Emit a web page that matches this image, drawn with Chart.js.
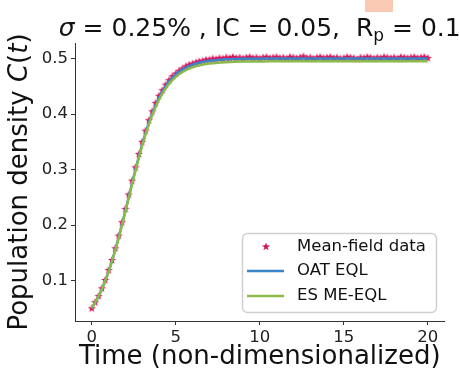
<!DOCTYPE html>
<html>
<head>
<meta charset="utf-8">
<script src="https://cdn.jsdelivr.net/npm/chart.js@4.4.1/dist/chart.umd.min.js"></script>
<style>
  body { margin: 0; background: #fff; }
  #wrap { position: relative; width: 459px; height: 370px; }
  #patch { position: absolute; left: 365px; top: 0; width: 28px; height: 12px; background: #f9c9b4; }
</style>
</head>
<body>
<div id="wrap">
  <canvas id="chart" width="459" height="370"></canvas>
  <div id="patch"></div>
</div>
<script>
// Mean-field data (stars), sampled every 0.2 time units
const dataTime = [
  0, 0.2, 0.4, 0.6, 0.8, 1, 1.2, 1.4, 1.6, 1.8,
  2, 2.2, 2.4, 2.6, 2.8, 3, 3.2, 3.4, 3.6, 3.8,
  4, 4.2, 4.4, 4.6, 4.8, 5, 5.2, 5.4, 5.6, 5.8,
  6, 6.2, 6.4, 6.6, 6.8, 7, 7.2, 7.4, 7.6, 7.8,
  8, 8.2, 8.4, 8.6, 8.8, 9, 9.2, 9.4, 9.6, 9.8,
  10, 10.2, 10.4, 10.6, 10.8, 11, 11.2, 11.4, 11.6, 11.8,
  12, 12.2, 12.4, 12.6, 12.8, 13, 13.2, 13.4, 13.6, 13.8,
  14, 14.2, 14.4, 14.6, 14.8, 15, 15.2, 15.4, 15.6, 15.8,
  16, 16.2, 16.4, 16.6, 16.8, 17, 17.2, 17.4, 17.6, 17.8,
  18, 18.2, 18.4, 18.6, 18.8, 19, 19.2, 19.4, 19.6, 19.8, 20
];
const meanField = [
  0.050, 0.061, 0.072, 0.086, 0.101, 0.119, 0.137, 0.158, 0.181, 0.205,
  0.229, 0.255, 0.280, 0.304, 0.328, 0.350, 0.370, 0.389, 0.405, 0.420,
  0.433, 0.443, 0.453, 0.461, 0.468, 0.473, 0.478, 0.482, 0.486, 0.489,
  0.491, 0.493, 0.495, 0.496, 0.498, 0.498, 0.500, 0.499, 0.501, 0.500,
  0.502, 0.501, 0.503, 0.501, 0.502, 0.500, 0.502, 0.503, 0.501, 0.502,
  0.500, 0.502, 0.503, 0.501, 0.502, 0.503, 0.501, 0.502, 0.500, 0.503,
  0.502, 0.501, 0.502, 0.504, 0.501, 0.502, 0.500, 0.502, 0.503, 0.501,
  0.502, 0.503, 0.501, 0.502, 0.500, 0.501, 0.503, 0.502, 0.501, 0.499,
  0.502, 0.501, 0.503, 0.502, 0.500, 0.502, 0.501, 0.503, 0.502, 0.501,
  0.502, 0.500, 0.503, 0.502, 0.501, 0.502, 0.503, 0.501, 0.502, 0.503, 0.501
];

// Learned model curves
const modelTime = [
  0, 0.5, 1, 1.5, 2, 2.5, 3, 3.5, 4, 4.5,
  5, 5.5, 6, 6.5, 7, 7.5, 8, 8.5, 9, 9.5,
  10, 10.5, 11, 11.5, 12, 12.5, 13, 13.5, 14, 14.5,
  15, 15.5, 16, 16.5, 17, 17.5, 18, 18.5, 19, 19.5, 20
];
const oatEql = [
  0.0500, 0.0774, 0.1160, 0.1662, 0.2254, 0.2876, 0.3453, 0.3932, 0.4292, 0.4545,
  0.4714, 0.4823, 0.4891, 0.4933, 0.4959, 0.4975, 0.4985, 0.4991, 0.4995, 0.4997,
  0.4998, 0.4999, 0.5000, 0.5000, 0.5000, 0.5000, 0.5000, 0.5000, 0.5000, 0.5000,
  0.5000, 0.5000, 0.5000, 0.5000, 0.5000, 0.5000, 0.5000, 0.5000, 0.5000, 0.5000, 0.5000
];
const esMeEql = [
  0.0500, 0.0774, 0.1158, 0.1658, 0.2246, 0.2860, 0.3430, 0.3901, 0.4257, 0.4505,
  0.4670, 0.4776, 0.4843, 0.4885, 0.4910, 0.4926, 0.4935, 0.4941, 0.4945, 0.4947,
  0.4948, 0.4949, 0.4950, 0.4950, 0.4950, 0.4950, 0.4950, 0.4950, 0.4950, 0.4950,
  0.4950, 0.4950, 0.4950, 0.4950, 0.4950, 0.4950, 0.4950, 0.4950, 0.4950, 0.4950, 0.4950
];

const xTicks = [0, 5, 10, 15, 20];
const yTicks = [0.1, 0.2, 0.3, 0.4, 0.5];
const seriesLabels = ['Mean-field data', 'OAT EQL', 'ES ME-EQL'];

const FONT = '"DejaVu Sans", sans-serif';
const STAR_COLOR = '#d8175f';
const BLUE = '#3b84c8';
const GREEN = '#8bb94a';

function starPath(ctx, cx, cy, outer, inner) {
    ctx.beginPath();
    for (let i = 0; i < 10; i++) {
        const r = i % 2 === 0 ? outer : inner;
        const a = -Math.PI / 2 + i * Math.PI / 5;
        const px = cx + r * Math.cos(a);
        const py = cy + r * Math.sin(a);
        if (i === 0) ctx.moveTo(px, py); else ctx.lineTo(px, py);
    }
    ctx.closePath();
}

// filled star marker like matplotlib '*'
const starImg = document.createElement('canvas');
starImg.width = 10;
starImg.height = 10;
(function() {
    const c = starImg.getContext('2d');
    c.fillStyle = STAR_COLOR;
    starPath(c, 5, 5.3, 4.3, 1.8);
    c.fill();
})();

// draw text made of pieces with different fonts, centred on cx
function drawPieces(ctx, pieces, cx, baseline) {
    let total = 0;
    pieces.forEach(p => { ctx.font = p.font; total += ctx.measureText(p.text).width; });
    let x = cx - total / 2;
    ctx.textAlign = 'left';
    ctx.textBaseline = 'alphabetic';
    pieces.forEach(p => {
        ctx.font = p.font;
        ctx.fillText(p.text, x, baseline + (p.dy || 0));
        x += ctx.measureText(p.text).width;
    });
}

const textPlugin = {
    id: 'texts',
    afterDraw(chart) {
        const ctx = chart.ctx;
        const area = chart.chartArea;
        const cx = (area.left + area.right) / 2;
        const cy = (area.top + area.bottom) / 2;
        ctx.save();
        ctx.fillStyle = '#111';

        // title
        const tf = '25px ' + FONT;
        drawPieces(ctx, [
            { text: 'σ', font: 'italic ' + tf },
            { text: ' = 0.25% , IC = 0.05,  R', font: tf },
            { text: 'p', font: '17px ' + FONT, dy: 5 },
            { text: ' = 0.1', font: tf }
        ], cx, 35.5);

        // x axis title
        ctx.font = '26px ' + FONT;
        ctx.textAlign = 'center';
        ctx.fillText('Time (non-dimensionalized)', cx, 364);

        // y axis title
        ctx.save();
        ctx.translate(27, cy);
        ctx.rotate(-Math.PI / 2);
        const yf = '26px ' + FONT;
        drawPieces(ctx, [
            { text: 'Population density ', font: yf },
            { text: 'C', font: 'italic ' + yf },
            { text: '(', font: yf },
            { text: 't', font: 'italic ' + yf },
            { text: ')', font: yf }
        ], 0, 0);
        ctx.restore();

        // legend box
        const lx = 242, ly = 233, lw = 194, lh = 79;
        ctx.beginPath();
        ctx.roundRect(lx + 0.5, ly + 0.5, lw, lh, 5);
        ctx.fillStyle = 'rgba(255,255,255,0.8)';
        ctx.fill();
        ctx.strokeStyle = '#d0d0d0';
        ctx.lineWidth = 1.5;
        ctx.stroke();

        const rows = [246.5, 271, 296];
        ctx.font = '16.5px ' + FONT;
        ctx.textAlign = 'left';
        ctx.textBaseline = 'middle';
        chart.data.datasets.forEach((ds, i) => {
            const y = rows[i];
            if (i === 0) {
                ctx.fillStyle = STAR_COLOR;
                starPath(ctx, 266, y + 0.3, 4.3, 1.8);
                ctx.fill();
            } else {
                ctx.strokeStyle = ds.borderColor;
                ctx.lineWidth = 2.5;
                ctx.beginPath();
                ctx.moveTo(247, y);
                ctx.lineTo(284, y);
                ctx.stroke();
            }
            ctx.fillStyle = '#111';
            ctx.fillText(ds.label, 297, y);
        });
        ctx.restore();
    }
};

const ctx = document.getElementById('chart').getContext('2d');
new Chart(ctx, {
    type: 'line',
    data: {
        datasets: [
            {
                type: 'scatter',
                label: seriesLabels[0],
                data: dataTime.map((t, i) => ({ x: t, y: meanField[i] })),
                pointStyle: starImg,
                pointRadius: 5,
                showLine: false,
                order: 3
            },
            {
                label: seriesLabels[1],
                data: modelTime.map((t, i) => ({ x: t, y: oatEql[i] })),
                borderColor: BLUE,
                borderWidth: 2.5,
                pointRadius: 0,
                cubicInterpolationMode: 'monotone',
                order: 2
            },
            {
                label: seriesLabels[2],
                data: modelTime.map((t, i) => ({ x: t, y: esMeEql[i] })),
                borderColor: GREEN,
                borderWidth: 2.5,
                pointRadius: 0,
                cubicInterpolationMode: 'monotone',
                order: 1
            }
        ]
    },
    options: {
        responsive: false,
        animation: false,
        devicePixelRatio: 1,
        layout: { padding: { top: 43, right: 14.5, bottom: 0, left: 0 } },
        plugins: {
            legend: { display: false },
            tooltip: { enabled: false }
        },
        scales: {
            x: {
                type: 'linear',
                min: -1,
                max: 21,
                afterBuildTicks: s => { s.ticks = xTicks.map(v => ({ value: v })); },
                afterFit: s => { s.height = 49; },
                grid: { drawOnChartArea: false, drawTicks: true, tickLength: 4, color: '#333' },
                border: { display: true, color: '#333', width: 1 },
                ticks: {
                    font: { family: FONT, size: 16.5 },
                    color: '#222',
                    padding: 3,
                    maxRotation: 0,
                    callback: v => String(v)
                }
            },
            y: {
                type: 'linear',
                min: 0.027,
                max: 0.528,
                afterBuildTicks: s => { s.ticks = yTicks.map(v => ({ value: v })); },
                afterFit: s => { s.width = 75; },
                grid: { drawOnChartArea: false, drawTicks: true, tickLength: 4, color: '#333' },
                border: { display: true, color: '#333', width: 1 },
                ticks: {
                    font: { family: FONT, size: 16.5 },
                    color: '#222',
                    padding: 3,
                    callback: v => v.toFixed(1)
                }
            }
        }
    },
    plugins: [textPlugin]
});
</script>
</body>
</html>
